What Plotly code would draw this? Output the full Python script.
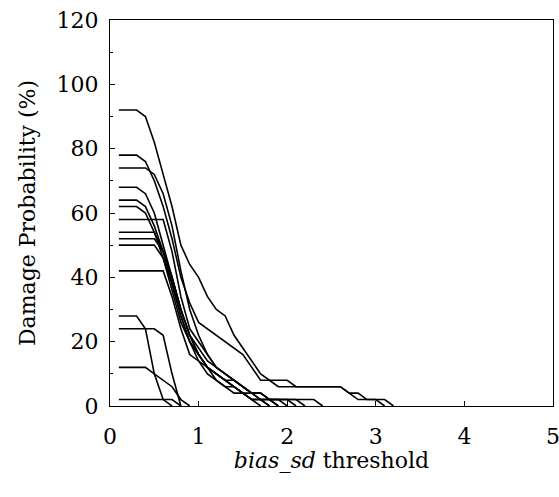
import plotly.graph_objects as go

# bias_sd threshold values (x)
thresholds = [0.1, 0.2, 0.3, 0.4, 0.5, 0.6, 0.7, 0.8, 0.9, 1.0,
              1.1, 1.2, 1.3, 1.4, 1.5, 1.6, 1.7, 1.8, 1.9, 2.0,
              2.1, 2.2, 2.3, 2.4, 2.5, 2.6, 2.7, 2.8, 2.9, 3.0,
              3.1, 3.2]

# Damage probability (%) series, one per curve
p92 = [92, 92, 92, 90, 82, 72, 62, 50, 44, 40, 34, 30, 28, 22, 18, 14, 10, 8, 8, 8, 6, 6, 6, 6, 6, 6, 4, 2, 2, 2, 2, 0]
p78 = [78, 78, 78, 76, 70, 62, 52, 40, 32, 26, 24, 22, 20, 18, 16, 12, 8, 8, 6, 6, 6, 6, 6, 6, 6, 6, 4, 4, 2, 2, 0]
p74 = [74, 74, 74, 74, 72, 66, 56, 42, 30, 22, 16, 12, 10, 8, 6, 4, 4, 2, 2, 2, 2, 0]
p68 = [68, 68, 68, 66, 60, 50, 40, 30, 22, 18, 14, 12, 10, 8, 6, 4, 2, 2, 0]
p64 = [64, 64, 64, 62, 56, 48, 40, 30, 22, 16, 12, 10, 8, 6, 4, 4, 2, 2, 2, 0]
p62 = [62, 62, 62, 60, 54, 46, 38, 28, 20, 16, 12, 8, 6, 6, 4, 2, 2, 0]
p58 = [58, 58, 58, 58, 58, 58, 48, 34, 24, 20, 16, 12, 10, 8, 6, 4, 4, 2, 2, 2, 2, 2, 2, 0]
p54 = [54, 54, 54, 54, 54, 48, 40, 30, 22, 16, 12, 10, 8, 6, 4, 2, 2, 2, 0]
p52 = [52, 52, 52, 52, 52, 48, 38, 28, 20, 14, 10, 8, 6, 4, 4, 2, 0]
p50 = [50, 50, 50, 50, 50, 46, 36, 26, 20, 16, 12, 10, 8, 8, 6, 4, 4, 2, 2, 2, 0]
p42 = [42, 42, 42, 42, 42, 42, 34, 24, 16, 14, 12, 10, 8, 6, 4, 2, 2, 0]
p28 = [28, 28, 28, 24, 10, 2, 0]
p24 = [24, 24, 24, 24, 24, 22, 10, 0]
p12 = [12, 12, 12, 12, 10, 8, 6, 2, 0]
p2 = [2, 2, 2, 2, 2, 2, 2, 0]

series = [p92, p78, p74, p68, p64, p62, p58, p54, p52, p50, p42, p28, p24, p12, p2]

x_ticks = [0, 1, 2, 3, 4, 5]
y_ticks = [0, 20, 40, 60, 80, 100, 120]

FONT = "DejaVu Serif"

fig = go.Figure()
for s in series:
    fig.add_trace(go.Scatter(
        x=thresholds[:len(s)], y=s, mode="lines",
        line=dict(color="black", width=1.6),
        showlegend=False, hoverinfo="skip",
    ))

fig.update_layout(
    width=559, height=497,
    margin=dict(l=110, r=6, t=20, b=91),
    paper_bgcolor="white", plot_bgcolor="white",
    font=dict(family=FONT, size=22, color="black"),
)
fig.update_xaxes(
    range=[0, 5], tickvals=x_ticks, ticktext=[str(v) for v in x_ticks],
    showgrid=False, zeroline=False, automargin=False,
    showline=True, linecolor="black", linewidth=1.2, mirror=True,
    ticks="inside", ticklen=5, tickcolor="black", ticklabelstandoff=10,
    ticklabeloverflow="allow",
    title=dict(text="<i>bias_sd</i> threshold", font=dict(family=FONT, size=22), standoff=0),
)
fig.update_yaxes(
    range=[0, 120], tickvals=y_ticks, ticktext=[str(v) for v in y_ticks],
    showgrid=False, zeroline=False, automargin=False,
    showline=True, linecolor="black", linewidth=1.2, mirror=True,
    ticks="inside", ticklen=5, tickcolor="black", ticklabelstandoff=6,
    ticklabeloverflow="allow",
    minor=dict(ticks="inside", ticklen=3, dtick=10, tickcolor="black"),
    title=dict(text="Damage Probability (%)", font=dict(family=FONT, size=22), standoff=14),
)

fig.write_html("out.html")
